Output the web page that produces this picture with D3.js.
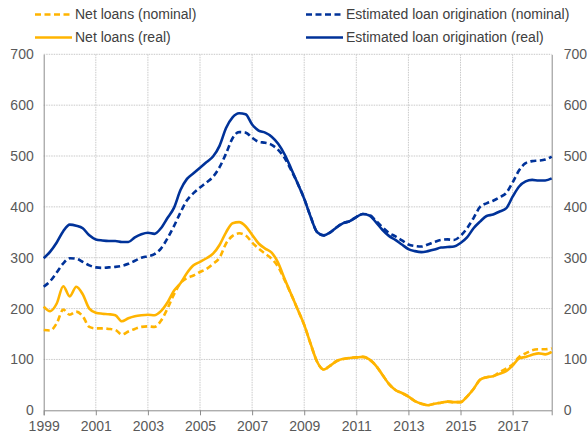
<!DOCTYPE html>
<html lang="en">
<head>
    <meta charset="UTF-8">
    <title>Net loans and estimated loan origination</title>
    <script src="https://d3js.org/d3.v7.min.js"></script>
    <style>
        body { margin: 0; background: #fff; font-family: "Liberation Sans", Arial, sans-serif; }
        svg { display: block; }
        .tick-label { font-size: 14px; fill: #595959; }
        .legend-label { font-size: 14px; fill: #404040; }
    </style>
</head>
<body>
<svg width="587" height="435"></svg>
<script>
    // quarterly observations, decimal years
    const dates = d3.range(0, 79).map(i => 1999 + i * 0.25);

    const estOriginationReal = [
        299, 312, 330, 352, 365, 363, 358, 344, 336, 334, 333, 333,
        331, 331, 340, 346, 349, 347, 358, 378, 398, 433, 455, 466,
        477, 488, 499, 520, 555, 576, 584, 582, 562, 550, 546, 538,
        524, 503, 475, 446, 416, 380, 350, 344, 350, 360, 368, 372,
        380, 386, 383, 370, 355, 343, 335, 326, 317, 313, 311, 313,
        316, 320, 321, 322, 329, 340, 358, 371, 382, 385, 391, 397,
        420, 440, 450, 453, 452, 452, 456
    ];
    const estOriginationNominal = [
        243, 254, 271, 289, 299, 298, 292, 285, 281, 280, 281, 282,
        284, 288, 294, 300, 303, 307, 318, 338, 362, 389, 413, 427,
        438, 448, 459, 478, 505, 535, 547, 546, 536, 528, 526, 522,
        512, 496, 472, 446, 416, 380, 350, 344, 350, 360, 368, 372,
        380, 386, 384, 373, 360, 349, 342, 334, 326, 323, 322, 326,
        331, 335, 336, 335, 343, 358, 378, 400, 407, 412, 419, 427,
        448, 472, 486, 490, 491, 493, 499
    ];
    const netLoansReal = [
        204, 195, 210, 244, 224, 243, 228, 200, 192, 190, 189, 187,
        175, 181, 185, 187, 188, 187, 195, 212, 235, 250, 270, 285,
        292, 299, 308, 325, 350, 368, 370, 362, 345, 328, 318, 310,
        290, 258, 228, 198, 168, 130, 95, 80, 88, 97, 101, 103,
        104, 105, 100, 88, 70, 52, 40, 34, 27, 18, 13, 10,
        13, 15, 17, 16, 16, 27, 42, 60, 65, 67, 72, 77,
        88, 102, 105, 109, 112, 110, 115
    ];
    const netLoansNominal = [
        158, 157, 171, 198, 188, 194, 185, 164, 161, 161, 160, 158,
        149, 155, 160, 164, 165, 164, 176, 200, 228, 250, 260, 265,
        272, 278, 288, 300, 328, 343, 348, 344, 330, 318, 308, 298,
        282, 256, 228, 198, 168, 130, 95, 80, 88, 97, 101, 103,
        104, 105, 100, 88, 70, 52, 40, 34, 27, 18, 13, 10,
        13, 15, 17, 16, 16, 27, 42, 60, 65, 67, 75, 82,
        90, 105, 112, 118, 120, 120, 122
    ];

    const yearTicks = [1999, 2001, 2003, 2005, 2007, 2009, 2011, 2013, 2015, 2017];
    const valueTicks = [0, 100, 200, 300, 400, 500, 600, 700];

    const seriesNames = [
        "Net loans (nominal)", "Estimated loan origination (nominal)",
        "Net loans (real)", "Estimated loan origination (real)"
    ];

    const orange = "#FFB400", blue = "#003299";

    const series = [
        { name: seriesNames[2], values: netLoansReal, color: orange, dashed: false },
        { name: seriesNames[0], values: netLoansNominal, color: orange, dashed: true },
        { name: seriesNames[3], values: estOriginationReal, color: blue, dashed: false },
        { name: seriesNames[1], values: estOriginationNominal, color: blue, dashed: true }
    ];

    const plotLeft = 43.7, plotRight = 551.7, plotTop = 54.3, plotBottom = 410.3;

    const x = d3.scaleLinear().domain([1999, 2018.5]).range([plotLeft, plotRight]);
    const y = d3.scaleLinear().domain([0, 700]).range([plotBottom, plotTop]);

    const svg = d3.select("svg");

    // grid
    svg.append("g")
        .selectAll("line")
        .data(valueTicks.slice(1))
        .join("line")
        .attr("x1", plotLeft).attr("x2", plotRight)
        .attr("y1", d => y(d)).attr("y2", d => y(d))
        .attr("stroke", "#c9c9c9")
        .attr("stroke-dasharray", "1.5,1");

    svg.append("g")
        .selectAll("line")
        .data(yearTicks.slice(1))
        .join("line")
        .attr("x1", d => x(d)).attr("x2", d => x(d))
        .attr("y1", plotTop).attr("y2", plotBottom)
        .attr("stroke", "#c9c9c9")
        .attr("stroke-dasharray", "1.5,1");

    // axes
    const xAxis = svg.append("g")
        .attr("transform", `translate(0,${plotBottom})`)
        .call(d3.axisBottom(x).tickValues(yearTicks).tickFormat(d3.format("d")).tickSize(5).tickPadding(6));
    xAxis.select(".domain").attr("stroke", "#8c8c8c");
    xAxis.selectAll(".tick line").attr("stroke", "#8c8c8c");
    xAxis.selectAll("text").attr("class", "tick-label");
    xAxis.attr("font-family", null).attr("font-size", null);

    const yLeft = svg.append("g")
        .attr("transform", `translate(${plotLeft},0)`)
        .call(d3.axisLeft(y).tickValues(valueTicks).tickSize(0).tickPadding(10));
    yLeft.select(".domain").attr("stroke", "#8c8c8c");
    yLeft.selectAll("text").attr("class", "tick-label");
    yLeft.attr("font-family", null).attr("font-size", null);

    const yRight = svg.append("g")
        .attr("transform", `translate(${plotRight},0)`)
        .call(d3.axisRight(y).tickValues(valueTicks).tickSize(0).tickPadding(12));
    yRight.select(".domain").attr("stroke", "#8c8c8c");
    yRight.selectAll("text").attr("class", "tick-label");
    yRight.attr("font-family", null).attr("font-size", null);

    // lines
    const line = d3.line()
        .x((d, i) => x(dates[i]))
        .y(d => y(d))
        .curve(d3.curveMonotoneX);

    svg.append("g")
        .selectAll("path")
        .data(series)
        .join("path")
        .attr("d", d => line(d.values))
        .attr("fill", "none")
        .attr("stroke", d => d.color)
        .attr("stroke-width", 2.6)
        .attr("stroke-linejoin", "round")
        .attr("stroke-dasharray", d => d.dashed ? "6,3.5" : null);

    // legend
    const legendItems = [
        { name: seriesNames[0], color: orange, dashed: true, lx: 35, ly: 14.5 },
        { name: seriesNames[1], color: blue, dashed: true, lx: 306, ly: 14.5 },
        { name: seriesNames[2], color: orange, dashed: false, lx: 35, ly: 37.5 },
        { name: seriesNames[3], color: blue, dashed: false, lx: 306, ly: 37.5 }
    ];

    const legend = svg.append("g")
        .selectAll("g")
        .data(legendItems)
        .join("g")
        .attr("transform", d => `translate(${d.lx},${d.ly})`);

    legend.append("line")
        .attr("x1", 0).attr("x2", 37)
        .attr("stroke", d => d.color)
        .attr("stroke-width", 2.6)
        .attr("stroke-dasharray", d => d.dashed ? "6,3.5" : null);

    legend.append("text")
        .attr("class", "legend-label")
        .attr("x", 40)
        .attr("dy", "0.35em")
        .text(d => d.name);
</script>
</body>
</html>
